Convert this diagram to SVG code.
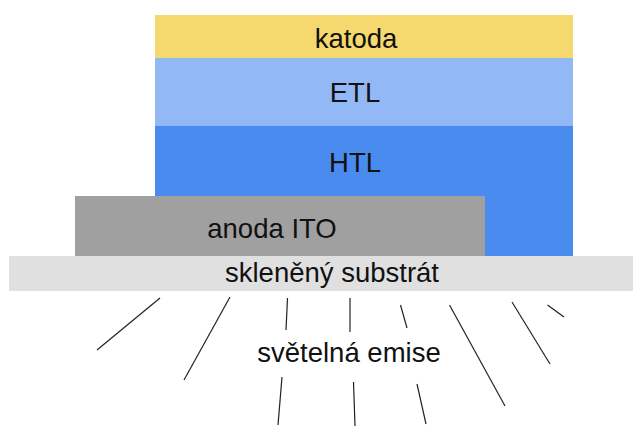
<svg xmlns="http://www.w3.org/2000/svg" width="633" height="427" viewBox="0 0 633 427">
<style>
text{font-family:"Liberation Sans",Arial,sans-serif;font-size:27.5px;fill:#111;text-anchor:middle}
.ray{stroke:#222;stroke-width:1.2;fill:none}
</style>
<rect width="633" height="427" fill="#fff"/>
<g id="htl"><rect x="155" y="126" width="418" height="130" fill="#4A8BEF"/><text x="355" y="172">HTL</text></g>
<g id="etl"><rect x="155" y="58" width="418" height="68" fill="#92B9F5"/><text x="355" y="102">ETL</text></g>
<g id="katoda"><rect x="155" y="15" width="418" height="43" fill="#F5D86E"/><text x="356" y="47.5">katoda</text></g>
<g id="anoda"><rect x="75" y="196" width="410" height="60" fill="#A0A0A0"/><text x="272" y="237.5">anoda ITO</text></g>
<g id="substrat"><rect x="9" y="256" width="624" height="35" fill="#E0E0E0"/><text x="332" y="281.5">skleněný substrát</text></g>
<g id="emise"><text x="349" y="361.5">světelná emise</text></g>
<g id="rays">
<line class="ray" x1="160" y1="298" x2="97" y2="350"/>
<line class="ray" x1="230" y1="297" x2="184" y2="380"/>
<line class="ray" x1="287.5" y1="298" x2="286" y2="330"/>
<line class="ray" x1="350" y1="298" x2="350" y2="332"/>
<line class="ray" x1="400.5" y1="305" x2="407" y2="328"/>
<line class="ray" x1="449.5" y1="305" x2="505" y2="406"/>
<line class="ray" x1="512" y1="302" x2="550" y2="364"/>
<line class="ray" x1="547.5" y1="305" x2="564" y2="317"/>
<line class="ray" x1="282" y1="377" x2="278" y2="425"/>
<line class="ray" x1="353.5" y1="382" x2="355" y2="426"/>
<line class="ray" x1="417" y1="384" x2="426" y2="424"/>
</g>
</svg>
